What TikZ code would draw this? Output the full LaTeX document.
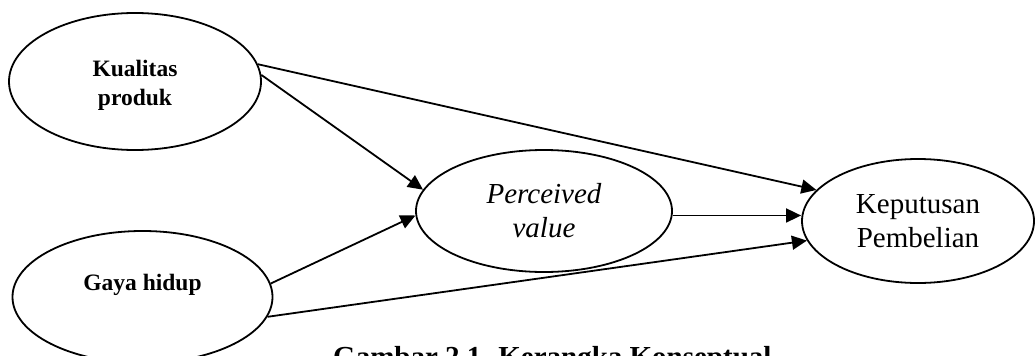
\documentclass[tikz,border=0pt]{standalone}
\usepackage{fontspec}
\setmainfont{Liberation Serif}
\usetikzlibrary{shapes.geometric,arrows.meta}
\begin{document}
\begin{tikzpicture}[x=1pt,y=-1pt,
  ell/.style={draw, ellipse, line width=1.8pt, inner sep=0pt, align=center},
  conn/.style={line width=1.8pt, -{Triangle[length=15pt,width=14pt]}},
  bl/.style={font=\fontsize{23.5}{28.2}\selectfont\bfseries},
  rg/.style={font=\fontsize{29}{34}\selectfont},
  it/.style={font=\fontsize{29}{34}\selectfont\itshape},
  captext/.style={font=\fontsize{29}{34}\selectfont\bfseries, inner sep=0pt}
]
\useasboundingbox (0,0) rectangle (1036,356);
\node[ell, bl, minimum width=252pt, minimum height=137pt] (kual) at (135,81.5) {\rule{0pt}{24pt}Kualitas\\produk};
\node[ell, bl, minimum width=260pt, minimum height=132pt, text height=16pt, text depth=30pt] (gaya) at (142.5,297) {Gaya hidup};
\node[ell, it, minimum width=256pt, minimum height=122pt] (perc) at (544,211) {Perceived\\value};
\node[ell, rg, minimum width=232pt, minimum height=124pt] (kep) at (918,221) {Keputusan\\Pembelian};
\node[captext, anchor=base west] (caption) at (333,366) {Gambar 2.1. Kerangka Konseptual};
\draw[conn] (kual.8) -- (kep.163);
\draw[conn] (kual.3) -- (perc.170);
\draw[conn] (gaya.6) -- (perc.182);
\draw[conn] (gaya.-9) -- (kep.190);
\draw[conn] (perc.-2) -- (perc.-2 -| kep.west);
\end{tikzpicture}
\end{document}
